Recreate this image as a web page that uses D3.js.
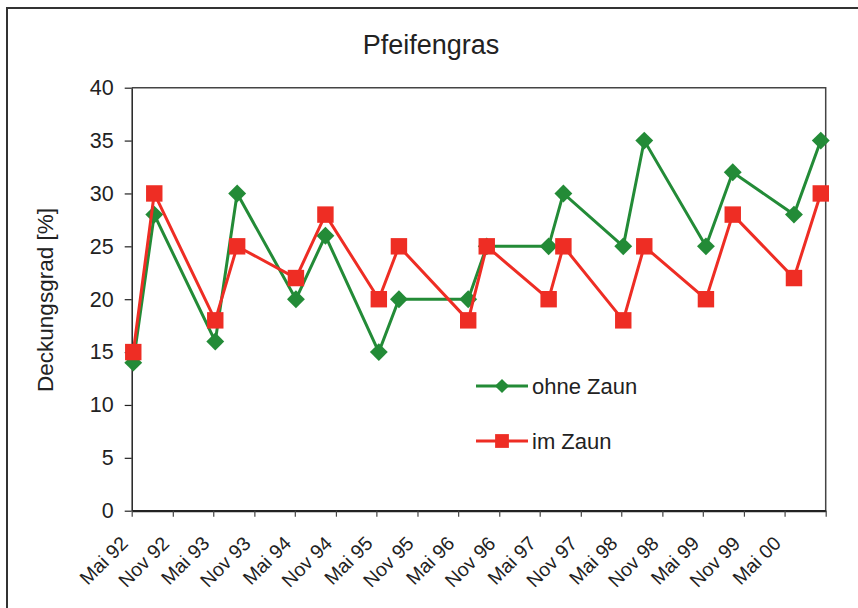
<!DOCTYPE html>
<html>
<head>
<meta charset="utf-8">
<script src="https://cdn.jsdelivr.net/npm/d3@7"></script>
<style>
  html, body { margin: 0; padding: 0; background: #fff; }
  svg { display: block; font-family: "Liberation Sans", Arial, sans-serif; }
</style>
</head>
<body>
<svg id="chart" width="858" height="608"></svg>
<script>
// Survey dates (sampling visits) and cover values in percent
const surveyDates = [
  "1992-05-08", "1992-08-10", "1993-05-10", "1993-08-16", "1994-05-06", "1994-09-15",
  "1995-05-12", "1995-08-10", "1996-06-15", "1996-09-06", "1997-06-10", "1997-08-15",
  "1998-05-10", "1998-08-12", "1999-05-15", "1999-09-12", "2000-06-12", "2000-10-10"
];
const ohneZaun = [14, 28, 16, 30, 20, 26, 15, 20, 20, 25, 25, 30, 25, 35, 25, 32, 28, 35];
const imZaun   = [15, 30, 18, 25, 22, 28, 20, 25, 18, 25, 20, 25, 18, 25, 20, 28, 22, 30];

const tickLabels = [
  "Mai 92", "Nov 92", "Mai 93", "Nov 93", "Mai 94", "Nov 94", "Mai 95", "Nov 95", "Mai 96",
  "Nov 96", "Mai 97", "Nov 97", "Mai 98", "Nov 98", "Mai 99", "Nov 99", "Mai 00"
];
const yTicks = [0, 5, 10, 15, 20, 25, 30, 35, 40];

const GREEN = "#238b37";
const RED = "#ee2d24";
const FONT = "Liberation Sans, Arial, sans-serif";

const svg = d3.select("#chart");
const parse = d3.timeParse("%Y-%m-%d");

const plot = { left: 131.7, right: 825.7, top: 87.7, bottom: 510.7 };

const x = d3.scaleTime()
  .domain([new Date(1992, 4, 1), new Date(2000, 10, 1)])
  .range([plot.left, plot.right]);
const y = d3.scaleLinear().domain([0, 40]).range([plot.bottom, plot.top]);

// Outer chart frame
svg.append("rect")
  .attr("x", 7).attr("y", 8).attr("width", 880).attr("height", 640)
  .attr("fill", "none").attr("stroke", "#333").attr("stroke-width", 2);

// Title
svg.append("text")
  .attr("x", 431).attr("y", 54)
  .attr("text-anchor", "middle")
  .attr("font-size", 27).attr("fill", "#222")
  .text("Pfeifengras");

// Plot area border (top and right)
svg.append("path")
  .attr("d", `M${plot.left},${plot.top}H${plot.right}V${plot.bottom}`)
  .attr("fill", "none").attr("stroke", "#444").attr("stroke-width", 1.5);

// Y axis
const yAxis = svg.append("g")
  .attr("transform", `translate(${plot.left},0)`)
  .call(d3.axisLeft(y).tickValues(yTicks).tickSize(7).tickPadding(11).tickSizeOuter(0));
yAxis.select(".domain").attr("stroke", "#222").attr("stroke-width", 1.5);
yAxis.selectAll(".tick line").attr("stroke", "#222").attr("stroke-width", 1.2);
yAxis.selectAll(".tick text")
  .attr("font-size", 21.5).attr("fill", "#222")
  .attr("font-family", FONT);

// X axis: half-year ticks
const halfYearTicks = d3.range(18).map(i => new Date(1992, 4 + 6 * i, 1));
const xAxis = svg.append("g")
  .attr("transform", `translate(0,${plot.bottom})`)
  .call(d3.axisBottom(x).tickValues(halfYearTicks).tickSize(6).tickSizeOuter(0)
    .tickFormat((d, i) => tickLabels[i] || ""));
xAxis.select(".domain").attr("stroke", "#222").attr("stroke-width", 2.2);
xAxis.selectAll(".tick line").attr("stroke", "#444").attr("stroke-width", 1.2);
xAxis.selectAll(".tick text")
  .attr("font-size", 19.5).attr("fill", "#222")
  .attr("font-family", FONT)
  .attr("text-anchor", "end")
  .attr("y", 0).attr("dy", "0")
  .attr("transform", "translate(-3,34) rotate(-45)");

// Y axis title
svg.append("text")
  .attr("transform", "translate(53,300) rotate(-90)")
  .attr("text-anchor", "middle")
  .attr("font-size", 22.5).attr("fill", "#222")
  .text("Deckungsgrad [%]");

// Series
const dates = surveyDates.map(parse);
const line = d3.line().x(d => x(d[0])).y(d => y(d[1]));

function drawSeries(values, color, shape, size) {
  const pts = dates.map((d, i) => [d, values[i]]);
  svg.append("path")
    .datum(pts)
    .attr("d", line)
    .attr("fill", "none").attr("stroke", color).attr("stroke-width", 3)
    .attr("stroke-linejoin", "miter");
  svg.append("g").selectAll("path")
    .data(pts).join("path")
    .attr("transform", d => `translate(${x(d[0])},${y(d[1])})`)
    .attr("d", d3.symbol().type(shape).size(size))
    .attr("fill", color);
}

// Diamond as a square rotated 45 degrees
const diamond = {
  draw(ctx, size) {
    const r = Math.sqrt(size) / 2;
    ctx.moveTo(0, -r); ctx.lineTo(r, 0); ctx.lineTo(0, r); ctx.lineTo(-r, 0); ctx.closePath();
  }
};

drawSeries(ohneZaun, GREEN, diamond, 320);
drawSeries(imZaun, RED, d3.symbolSquare, 270);

// Legend
const legend = [
  { label: "ohne Zaun", color: GREEN, shape: diamond, size: 200, y: 386 },
  { label: "im Zaun", color: RED, shape: d3.symbolSquare, size: 190, y: 441 }
];
const lg = svg.append("g").selectAll("g").data(legend).join("g")
  .attr("transform", d => `translate(0,${d.y})`);
lg.append("line")
  .attr("x1", 476).attr("x2", 528).attr("y1", 0).attr("y2", 0)
  .attr("stroke", d => d.color).attr("stroke-width", 3);
lg.append("path")
  .attr("transform", "translate(502,0)")
  .attr("d", d => d3.symbol().type(d.shape).size(d.size)())
  .attr("fill", d => d.color);
lg.append("text")
  .attr("x", 532).attr("y", 8)
  .attr("font-size", 22).attr("fill", "#222")
  .text(d => d.label);
</script>
</body>
</html>
